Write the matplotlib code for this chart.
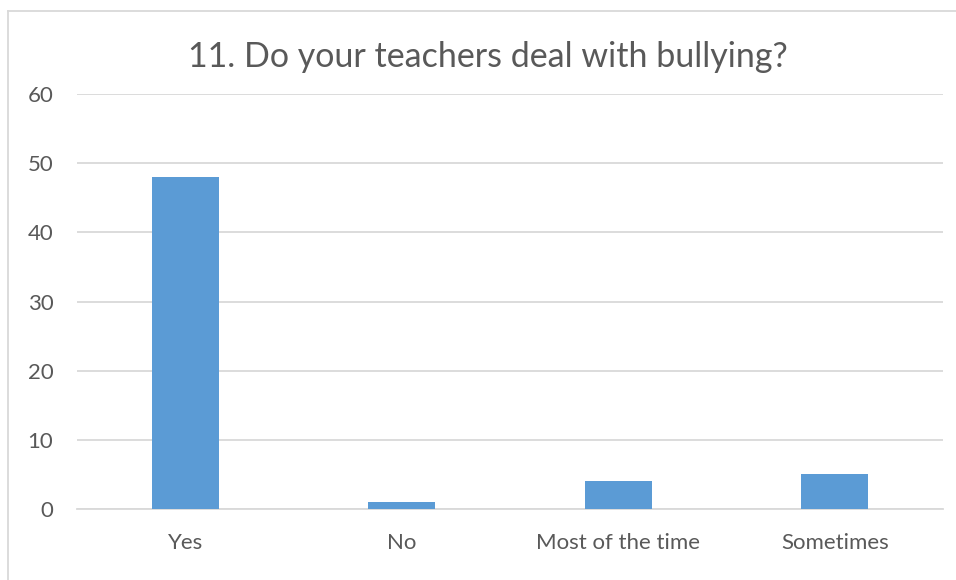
import matplotlib.pyplot as plt
from matplotlib.lines import Line2D

# Datos
categorias = ['Yes', 'No', 'Most of the time', 'Sometimes']
respuestas = [48, 1, 4, 5]
ticks_y = [0, 10, 20, 30, 40, 50, 60]

gris_texto = '#595959'
gris_linea = '#D9D9D9'
azul = '#5B9BD5'

plt.rcParams['font.family'] = ['Lato', 'DejaVu Sans']

fig = plt.figure(figsize=(9.56, 5.8), dpi=100)
ax = fig.add_axes([77/956, 1 - 509/580, (943 - 77)/956, (509 - 94)/580])

# Barras
x = range(len(categorias))
ax.bar(x, respuestas, width=0.31, color=azul, zorder=3)

ax.set_xlim(-0.5, len(categorias) - 0.5)
ax.set_ylim(0, 60)
ax.set_yticks(ticks_y)
ax.set_xticks(list(x))
ax.set_xticklabels(categorias)

# Cuadrícula y ejes al estilo Excel
ax.yaxis.grid(True, color=gris_linea, linewidth=1.3, zorder=0)
for lado in ['top', 'right', 'left']:
    ax.spines[lado].set_visible(False)
ax.spines['bottom'].set_color(gris_linea)
ax.spines['bottom'].set_linewidth(1.3)
ax.tick_params(axis='both', length=0, colors=gris_texto, labelsize=16)
ax.tick_params(axis='y', pad=17)
ax.tick_params(axis='x', pad=17)

# Título
fig.text(488/956, 1 - 57/580, '11. Do your teachers deal with bullying?',
         ha='center', va='center', fontsize=24.5, color=gris_texto)

# Borde del gráfico (recortado a la derecha y abajo)
fig.add_artist(Line2D([8/956, 1], [1 - 11/580, 1 - 11/580], color=gris_linea, linewidth=1.3))
fig.add_artist(Line2D([8/956, 8/956], [0, 1 - 11/580], color=gris_linea, linewidth=1.3))

fig.savefig('out.png', dpi=100)
